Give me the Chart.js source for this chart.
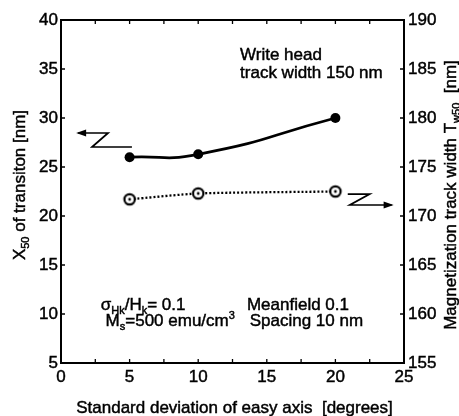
<!DOCTYPE html>
<html>
<head>
<meta charset="utf-8">
<script src="https://cdn.jsdelivr.net/npm/chart.js@4/dist/chart.umd.min.js"></script>
<style>
  body { margin: 0; background: #ffffff; }
  canvas { display: block; }
</style>
</head>
<body>
<canvas id="chart" width="459" height="416"></canvas>
<script>
// Standard deviation of the easy axis [degrees]
const xValues = [5, 10, 20];
// X50 of transition [nm] (left axis)
const x50Values = [26.0, 26.3, 30.0];
// Magnetization track width Tw50 [nm] (right axis)
const tw50Values = [171.7, 172.3, 172.5];

// Axis ranges and tick steps
const xRange = [0, 25];
const leftRange = [5, 40];
const rightRange = [155, 190];
const majorStep = 5;
const xMinorStep = 2.5;

const FONT = '"Liberation Sans", Arial, Helvetica, sans-serif';
const SIZE = 17;
const SMALL = 11;
const INK = 0.45; // thin outline so the lettering reads a bit heavier

// Open circle with a dot in the middle for the track width series
function openDot() {
    const c = document.createElement("canvas");
    c.width = 16;
    c.height = 16;
    const g = c.getContext("2d");
    g.beginPath();
    g.arc(8, 8, 5.2, 0, Math.PI * 2);
    g.fillStyle = "#ffffff";
    g.fill();
    g.lineWidth = 2.2;
    g.strokeStyle = "#000000";
    g.stroke();
    g.beginPath();
    g.arc(8, 8, 1.4, 0, Math.PI * 2);
    g.fillStyle = "#000000";
    g.fill();
    return c;
}

// Draw text made of normal / sub / sup pieces, left aligned or centred
function richText(ctx, parts, x, y, align) {
    let w = 0;
    parts.forEach(p => {
        ctx.font = (p[1] ? SMALL : SIZE) + "px " + FONT;
        w += ctx.measureText(p[0]).width;
    });
    let cx = align === "center" ? x - w / 2 : x;
    ctx.textAlign = "left";
    ctx.textBaseline = "alphabetic";
    ctx.lineWidth = INK;
    ctx.strokeStyle = "#000";
    parts.forEach(p => {
        ctx.font = (p[1] ? SMALL : SIZE) + "px " + FONT;
        let dy = 0;
        if (p[1] === "sub") dy = 4;
        if (p[1] === "sup") dy = -7;
        ctx.fillText(p[0], cx, y + dy);
        ctx.strokeText(p[0], cx, y + dy);
        cx += ctx.measureText(p[0]).width;
    });
}

// Z-shaped pointer with an arrow head at the last point (data coords)
function zArrow(ctx, sx, sy, pts) {
    const p = pts.map(q => [sx.getPixelForValue(q[0]), sy.getPixelForValue(q[1])]);
    ctx.beginPath();
    ctx.moveTo(p[0][0], p[0][1]);
    for (let i = 1; i < p.length; i++) ctx.lineTo(p[i][0], p[i][1]);
    ctx.lineWidth = 1.7;
    ctx.strokeStyle = "#000";
    ctx.stroke();
    const a = p[p.length - 1];
    const b = p[p.length - 2];
    const dir = Math.sign(a[0] - b[0]);
    ctx.beginPath();
    ctx.moveTo(a[0] + dir * 2, a[1]);
    ctx.lineTo(a[0] - dir * 8, a[1] - 3.5);
    ctx.lineTo(a[0] - dir * 8, a[1] + 3.5);
    ctx.closePath();
    ctx.fillStyle = "#000";
    ctx.fill();
}

const frame = {
    id: "frame",
    afterDraw(chart) {
        const ctx = chart.ctx;
        const a = chart.chartArea;
        const sx = chart.scales.x;
        const sy = chart.scales.y;
        const sy2 = chart.scales.y2;
        ctx.save();

        // box
        ctx.strokeStyle = "#000";
        ctx.lineWidth = 2;
        ctx.strokeRect(a.left, a.top, a.right - a.left, a.bottom - a.top);

        // inward tick marks
        ctx.lineWidth = 1.3;
        ctx.beginPath();
        for (let v = xRange[0] + xMinorStep; v < xRange[1]; v += xMinorStep) {
            const px = sx.getPixelForValue(v);
            ctx.moveTo(px, a.bottom); ctx.lineTo(px, a.bottom - 4);
            ctx.moveTo(px, a.top); ctx.lineTo(px, a.top + 4);
        }
        for (let v = leftRange[0] + majorStep; v < leftRange[1]; v += majorStep) {
            const py = sy.getPixelForValue(v);
            ctx.moveTo(a.left, py); ctx.lineTo(a.left + 4, py);
        }
        for (let v = rightRange[0] + majorStep; v < rightRange[1]; v += majorStep) {
            const py = sy2.getPixelForValue(v);
            ctx.moveTo(a.right, py); ctx.lineTo(a.right - 4, py);
        }
        ctx.stroke();

        ctx.fillStyle = "#000";

        // axis titles
        richText(ctx, [["Standard deviation of easy axis  [degrees]"]],
            (a.left + a.right) / 2 + 2, 413, "center");

        ctx.save();
        ctx.translate(25, 185);
        ctx.rotate(-Math.PI / 2);
        richText(ctx, [["X"], ["50", "sub"], [" of transiton [nm]"]], 0, 0, "center");
        ctx.restore();

        ctx.save();
        ctx.translate(456, 195);
        ctx.rotate(-Math.PI / 2);
        richText(ctx, [["Magnetization track width T"], ["w50", "sub"], ["  [nm]"]], 0, 0, "center");
        ctx.restore();

        // notes inside the plot
        const X = v => sx.getPixelForValue(v);
        const Y = v => sy.getPixelForValue(v);
        richText(ctx, [["Write head"]], X(13.05), Y(35.92));
        richText(ctx, [["track width 150 nm"]], X(13.05), Y(34.08));
        richText(ctx, [["\u03c3"], ["H", "sub"], ["k", "sub"], ["/H"], ["k", "sub"], ["= 0.1"]], X(2.9), Y(10.41));
        richText(ctx, [["M"], ["s", "sub"], ["=500 emu/cm"], ["3", "sup"]], X(3.25), Y(8.78));
        richText(ctx, [["Meanfield 0.1"]], X(13.55), Y(10.41));
        richText(ctx, [["Spacing 10 nm"]], X(13.75), Y(8.78));

        // pointers to each series' axis
        zArrow(ctx, sx, sy, [[5.17, 27.04], [2.26, 27.04], [3.43, 28.47], [1.25, 28.47]]);
        zArrow(ctx, sx, sy, [[20.9, 22.24], [22.5, 22.24], [21.05, 21.12], [24.1, 21.12]]);

        ctx.restore();
    }
};

function fitAxis(size, vertical) {
    return s => {
        if (vertical) s.width = size; else s.height = size;
        s.paddingTop = 0;
        s.paddingBottom = 0;
        s.paddingLeft = 0;
        s.paddingRight = 0;
    };
}

const tickStyle = {
    stepSize: majorStep,
    color: "#000",
    font: { family: FONT, size: SIZE },
    textStrokeColor: "#000",
    textStrokeWidth: INK
};

new Chart(document.getElementById("chart"), {
    type: "line",
    data: {
        datasets: [
            {
                label: "X50 of transition",
                data: xValues.map((x, i) => ({ x: x, y: x50Values[i] })),
                yAxisID: "y",
                borderColor: "#000",
                borderWidth: 2.8,
                tension: 0.55,
                pointRadius: 5,
                pointBackgroundColor: "#000",
                pointBorderWidth: 0
            },
            {
                label: "Tw50",
                data: xValues.map((x, i) => ({ x: x, y: tw50Values[i] })),
                yAxisID: "y2",
                borderColor: "#000",
                borderWidth: 2.3,
                borderDash: [2, 2],
                tension: 0.2,
                pointStyle: openDot(),
                pointRadius: 7
            }
        ]
    },
    options: {
        responsive: false,
        animation: false,
        events: [],
        layout: { padding: { top: 20, left: 0, right: 0, bottom: 0 } },
        plugins: {
            legend: { display: false },
            tooltip: { enabled: false }
        },
        scales: {
            x: {
                type: "linear",
                min: xRange[0],
                max: xRange[1],
                afterFit: fitAxis(53, false),
                border: { display: false },
                grid: { display: false, drawTicks: false },
                ticks: Object.assign({ padding: 4, maxRotation: 0 }, tickStyle)
            },
            y: {
                position: "left",
                min: leftRange[0],
                max: leftRange[1],
                afterFit: fitAxis(61, true),
                border: { display: false },
                grid: { display: false, drawTicks: false },
                ticks: Object.assign({ padding: 3 }, tickStyle)
            },
            y2: {
                position: "right",
                min: rightRange[0],
                max: rightRange[1],
                afterFit: fitAxis(55, true),
                border: { display: false },
                grid: { display: false, drawTicks: false },
                ticks: Object.assign({ padding: 4 }, tickStyle)
            }
        }
    },
    plugins: [frame]
});
</script>
</body>
</html>
